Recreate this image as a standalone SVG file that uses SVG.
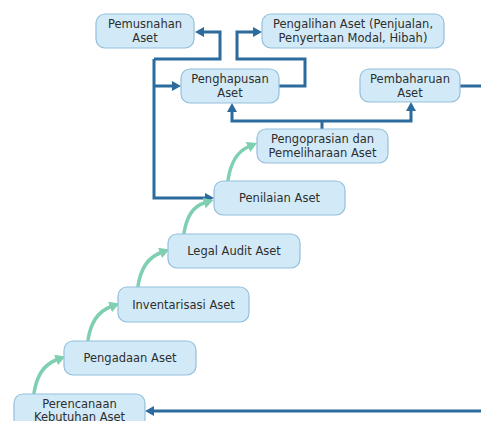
<svg xmlns="http://www.w3.org/2000/svg" width="481" height="421" viewBox="0 0 481 421">
<style>
.box{fill:#d2eaf7;stroke:#94bfdb;stroke-width:1.2}
.t{font-family:"DejaVu Sans",Verdana,sans-serif;font-size:11.5px;fill:#2e2e2e;text-anchor:middle}
.c{fill:none;stroke:#2b6b9d;stroke-width:3;stroke-linejoin:miter}
.g{fill:none;stroke:#7fd0b1;stroke-width:3.5;stroke-linecap:round}
</style>
<defs>
<marker id="ab" markerUnits="userSpaceOnUse" markerWidth="9" markerHeight="10" refX="0" refY="5" orient="auto-start-reverse">
<path d="M0,0 L9,5 L0,10 z" fill="#2b6b9d"/>
</marker>
<marker id="ag" markerUnits="userSpaceOnUse" markerWidth="10" markerHeight="11" refX="0" refY="5.5" orient="auto">
<path d="M0,0 L10,5.5 L0,11 z" fill="#7fd0b1"/>
</marker>
</defs>
<rect width="481" height="421" fill="#fff"/>
<g id="connectors">
<path class="c" d="M154,59 L154,198 L205,198" marker-end="url(#ab)"/>
<path class="c" d="M154,59 L220,59 L220,32 L204,32" marker-end="url(#ab)"/>
<path class="c" d="M154,86 L172,86" marker-end="url(#ab)"/>
<path class="c" d="M279,86 L305,86 L305,59 L237,59 L237,32 L253,32" marker-end="url(#ab)"/>
<path class="c" d="M232,112 L232,121 L411,121 L411,111" marker-start="url(#ab)" marker-end="url(#ab)"/>
<path class="c" d="M322,129 L322,121"/>
<path class="c" d="M460,86 L484,86 L484,411 L154,411" marker-end="url(#ab)"/>
<path class="g" d="M34,393 Q38,367 56,360" marker-end="url(#ag)"/>
<path class="g" d="M88,340 Q92,314 110,307" marker-end="url(#ag)"/>
<path class="g" d="M138,286 Q142,260 160,253" marker-end="url(#ag)"/>
<path class="g" d="M184,233 Q188,208 204,203" marker-end="url(#ag)"/>
<path class="g" d="M228,180 Q232,154 248,147" marker-end="url(#ag)"/>
</g>
<g id="pemusnahan"><rect class="box" x="96" y="14" width="98" height="34" rx="9"/><text class="t" x="145" y="28">Pemusnahan</text><text class="t" x="145" y="42">Aset</text></g>
<g id="pengalihan"><rect class="box" x="262" y="14" width="182" height="34" rx="9"/><text class="t" x="353" y="28">Pengalihan Aset (Penjualan,</text><text class="t" x="353" y="42">Penyertaan Modal, Hibah)</text></g>
<g id="penghapusan"><rect class="box" x="181" y="69" width="98" height="34" rx="9"/><text class="t" x="230" y="83">Penghapusan</text><text class="t" x="230" y="97">Aset</text></g>
<g id="pembaharuan"><rect class="box" x="360" y="69" width="100" height="33" rx="9"/><text class="t" x="410" y="83">Pembaharuan</text><text class="t" x="410" y="97">Aset</text></g>
<g id="pengoprasian"><rect class="box" x="257" y="129" width="131" height="34" rx="9"/><text class="t" x="322.5" y="143">Pengoprasian dan</text><text class="t" x="322.5" y="157">Pemeliharaan Aset</text></g>
<g id="penilaian"><rect class="box" x="214" y="181" width="131" height="34" rx="9"/><text class="t" x="279.5" y="202">Penilaian Aset</text></g>
<g id="legal"><rect class="box" x="168" y="234" width="132" height="34" rx="9"/><text class="t" x="234" y="255">Legal Audit Aset</text></g>
<g id="inventarisasi"><rect class="box" x="118" y="287" width="131" height="35" rx="9"/><text class="t" x="183.5" y="309">Inventarisasi Aset</text></g>
<g id="pengadaan"><rect class="box" x="64" y="341" width="132" height="34" rx="9"/><text class="t" x="130" y="362">Pengadaan Aset</text></g>
<g id="perencanaan"><rect class="box" x="14" y="394" width="131" height="34" rx="9"/><text class="t" x="79.5" y="408">Perencanaan</text><text class="t" x="79.5" y="421">Kebutuhan Aset</text></g>
</svg>
